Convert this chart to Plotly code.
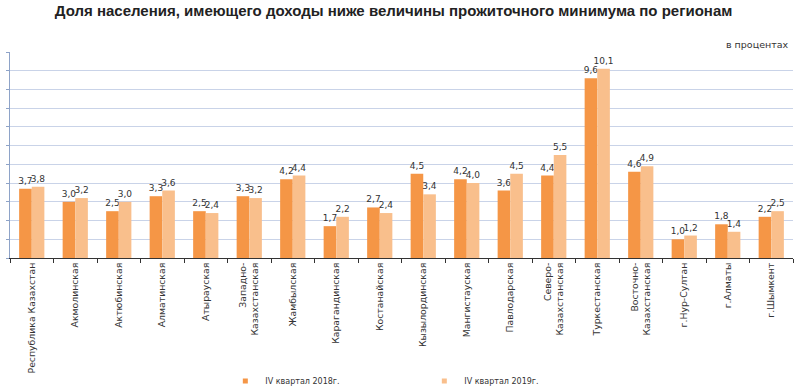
import plotly.graph_objects as go

categories = [
    "Республика Казахстан", "Акмолинская", "Актюбинская", "Алматинская", "Атырауская",
    "Западно-<br>Казахстанская", "Жамбылская", "Карагандинская", "Костанайская",
    "Кызылординская", "Мангистауская", "Павлодарская", "Северо-<br>Казахстанская",
    "Туркестанская", "Восточно-<br>Казахстанская", "г.Нур-Султан", "г.Алматы", "г.Шымкент",
]
q4_2018 = [3.7, 3.0, 2.5, 3.3, 2.5, 3.3, 4.2, 1.7, 2.7, 4.5, 4.2, 3.6, 4.4, 9.6, 4.6, 1.0, 1.8, 2.2]
q4_2019 = [3.8, 3.2, 3.0, 3.6, 2.4, 3.2, 4.4, 2.2, 2.4, 3.4, 4.0, 4.5, 5.5, 10.1, 4.9, 1.2, 1.4, 2.5]
series_names = ["IV квартал 2018г.", "IV квартал 2019г."]
colors = ["#F59646", "#F9BF8C"]
title_text = "Доля населения, имеющего доходы ниже величины прожиточного минимума по регионам"
unit_text = "в процентах"

fig = go.Figure()
for name, vals, col in zip(series_names, [q4_2018, q4_2019], colors):
    fig.add_trace(go.Bar(
        x=categories, y=vals, name=name, marker=dict(color=col, line=dict(width=0)),
        text=vals, texttemplate="%{y:.1f}", textposition="outside",
        constraintext="none", cliponaxis=False,
        textfont=dict(family="DejaVu Sans", size=9, color="#333333"),
        showlegend=False,
    ))
    fig.add_trace(go.Scatter(
        x=[None], y=[None], mode="markers", name=name,
        marker=dict(symbol="square", size=5, color=col),
    ))

fig.update_layout(
    width=800, height=392,
    margin=dict(l=10, r=7, t=52, b=134, autoexpand=False),
    paper_bgcolor="white", plot_bgcolor="white",
    separators=", ",
    barmode="group", bargap=0.42, bargroupgap=0,
    title=dict(text="<b>" + title_text + "</b>", x=0.492, xanchor="center",
               y=1 - 11 / 392, yanchor="middle",
               font=dict(family="Liberation Sans", size=15, color="#222222")),
    legend=dict(orientation="h", x=0.275, xanchor="left", y=-0.597, yanchor="middle",
                entrywidth=154, entrywidthmode="pixels", itemwidth=30,
                font=dict(family="DejaVu Sans", size=8, color="#333333")),
    annotations=[dict(text=unit_text, xref="paper", yref="paper", x=0.997, y=1.034,
                      xanchor="right", yanchor="middle", showarrow=False,
                      font=dict(family="DejaVu Sans", size=9.5, color="#333333"))],
)
fig.update_xaxes(
    tickangle=-90, tickson="boundaries", ticks="outside", ticklen=4, tickcolor="#333333",
    showline=True, linecolor="#333333", linewidth=1,
    tickfont=dict(family="DejaVu Sans", size=9.3, color="#333333"),
)
fig.update_yaxes(
    range=[0, 11], dtick=1, showticklabels=False, ticks="outside", ticklen=3,
    tickcolor="#8EA3C8", showline=True, linecolor="#8EA3C8", linewidth=1,
    showgrid=True, gridcolor="#C9D3E8", gridwidth=1, zeroline=False,
)
fig.write_html("out.html", config={"displayModeBar": False},
               post_script="document.body.style.margin='0px';")
